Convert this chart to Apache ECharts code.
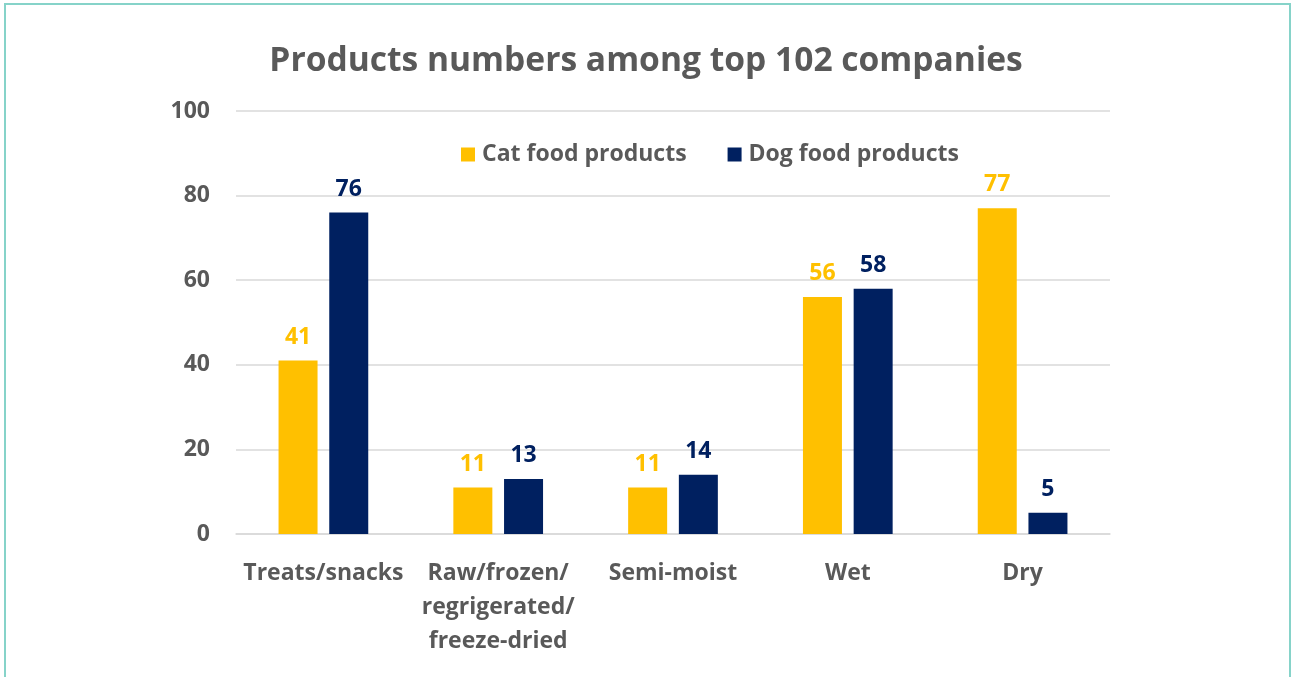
<!DOCTYPE html>
<html><head><meta charset="utf-8">
<script src="https://cdn.jsdelivr.net/npm/echarts@6/dist/echarts.min.js"></script>
<style>html,body{margin:0;padding:0;background:#fff}#c{width:1292px;height:677px}</style>
</head><body><div id="c"></div>
<script>
const categories = ['Treats/snacks', 'Raw/frozen/\nregrigerated/\nfreeze-dried', 'Semi-moist', 'Wet', 'Dry'];
const catFood = [41, 11, 11, 56, 77];
const dogFood = [76, 13, 14, 58, 5];
const yTicks = { min: 0, max: 100, interval: 20 };
const seriesNames = ['Cat food products', 'Dog food products'];

const FONT = 'Open Sans';
const GREY = '#595959';
const chart = echarts.init(document.getElementById('c'));
chart.setOption({
  animation: false,
  textStyle: { fontFamily: FONT },
  title: {
    text: 'Products numbers among top 102 companies',
    left: 'center', top: 39,
    textStyle: { fontFamily: FONT, fontSize: 33.6, fontWeight: 'bold', color: GREY }
  },
  legend: {
    left: 456, top: 138,
    itemWidth: 14, itemHeight: 14, itemGap: 41,
    icon: 'rect',
    textStyle: { fontFamily: FONT, fontSize: 23, fontWeight: 'bold', color: GREY, padding: [0, 0, 0, 2] },
    data: seriesNames
  },
  graphic: [{
    type: 'rect', shape: { x: 5, y: 4, width: 1285, height: 720 },
    style: { fill: 'none', stroke: '#86d3c9', lineWidth: 2 }, silent: true, z: 100
  }],
  grid: { left: 236, right: 182, top: 111, bottom: 143, containLabel: false },
  xAxis: {
    type: 'category', data: categories,
    axisTick: { show: false },
    axisLine: { lineStyle: { color: '#d9d9d9', width: 1.5 } },
    axisLabel: { fontFamily: FONT, fontSize: 23, fontWeight: 'bold', color: GREY, margin: 22, lineHeight: 34, interval: 0 }
  },
  yAxis: {
    type: 'value', min: yTicks.min, max: yTicks.max, interval: yTicks.interval,
    axisLine: { show: false }, axisTick: { show: false },
    splitLine: { lineStyle: { color: '#d9d9d9', width: 1.5 } },
    axisLabel: { fontFamily: FONT, fontSize: 23, fontWeight: 'bold', color: GREY, margin: 26 }
  },
  series: [
    { name: seriesNames[0], type: 'bar', data: catFood, barWidth: 39, barGap: '30%',
      itemStyle: { color: '#ffc000' },
      label: { show: true, position: 'top', distance: 12, fontFamily: FONT, fontSize: 23, fontWeight: 'bold', color: '#ffc000' } },
    { name: seriesNames[1], type: 'bar', data: dogFood, barWidth: 39,
      itemStyle: { color: '#002060' },
      label: { show: true, position: 'top', distance: 12, fontFamily: FONT, fontSize: 23, fontWeight: 'bold', color: '#002060' } }
  ]
});
</script></body></html>
